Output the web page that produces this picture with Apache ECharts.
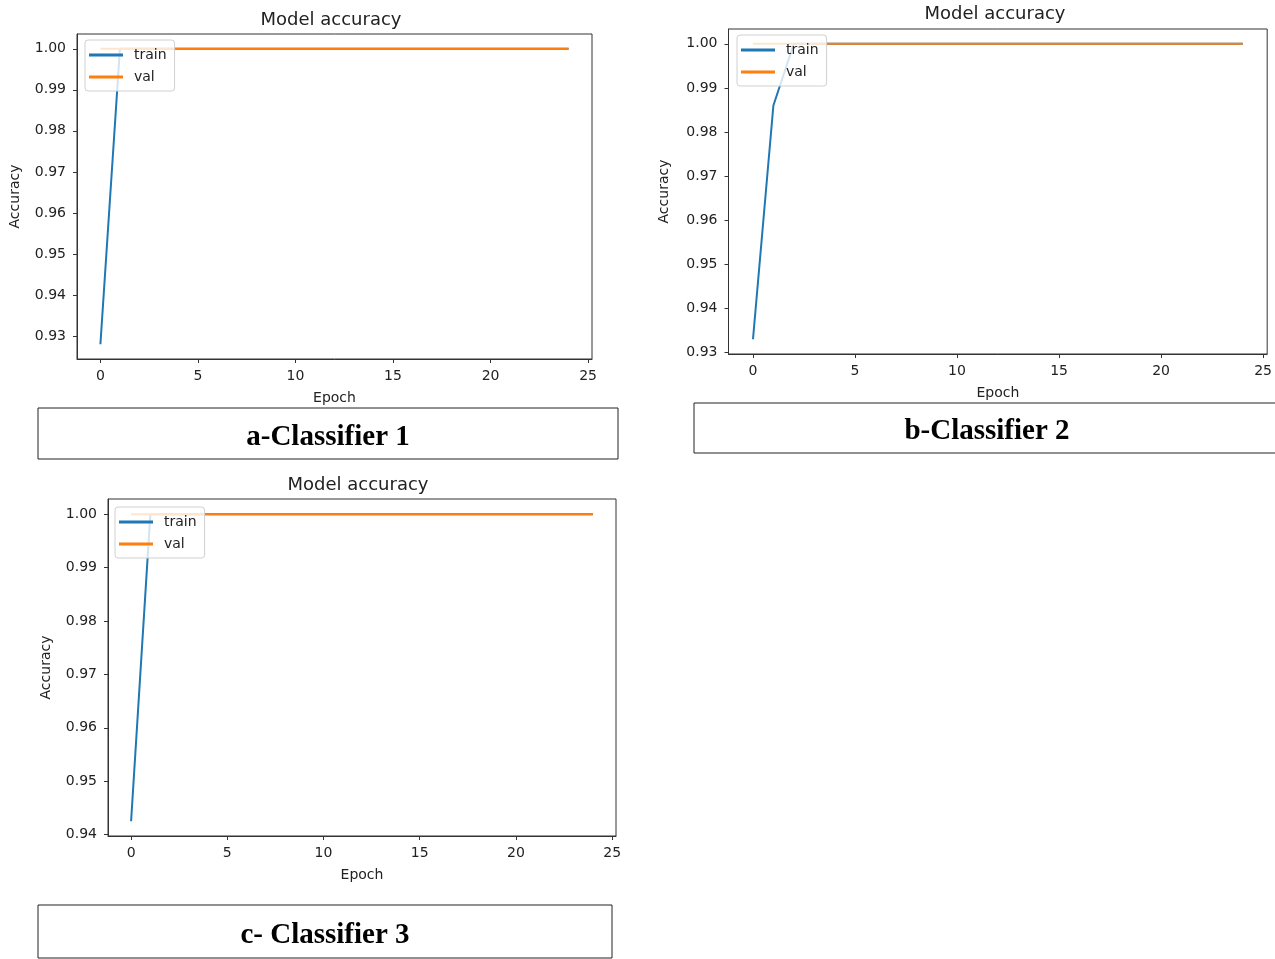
<!DOCTYPE html>
<html>
<head>
<meta charset="utf-8">
<script src="https://cdn.jsdelivr.net/npm/echarts@6/dist/echarts.min.js"></script>
<style>
html,body{margin:0;padding:0;background:#fff;}
#chart{width:1275px;height:959px;}
</style>
</head>
<body>
<div id="chart"></div>
<script>
// ---- data ----
const epochs = [0,1,2,3,4,5,6,7,8,9,10,11,12,13,14,15,16,17,18,19,20,21,22,23,24];
const trainA = [0.928,1.0,1.0,1.0,1.0,1.0,1.0,1.0,1.0,1.0,1.0,1.0,1.0,1.0,1.0,1.0,1.0,1.0,1.0,1.0,1.0,1.0,1.0,1.0,1.0];
const valA   = [1.0,1.0,1.0,1.0,1.0,1.0,1.0,1.0,1.0,1.0,1.0,1.0,1.0,1.0,1.0,1.0,1.0,1.0,1.0,1.0,1.0,1.0,1.0,1.0,1.0];
const trainB = [0.933,0.986,1.0,1.0,1.0,1.0,1.0,1.0,1.0,1.0,1.0,1.0,1.0,1.0,1.0,1.0,1.0,1.0,1.0,1.0,1.0,1.0,1.0,1.0,1.0];
const valB   = [1.0,1.0,1.0,1.0,1.0,1.0,1.0,1.0,1.0,1.0,1.0,1.0,1.0,1.0,1.0,1.0,1.0,1.0,1.0,1.0,1.0,1.0,1.0,1.0,1.0];
const trainC = [0.9425,1.0,1.0,1.0,1.0,1.0,1.0,1.0,1.0,1.0,1.0,1.0,1.0,1.0,1.0,1.0,1.0,1.0,1.0,1.0,1.0,1.0,1.0,1.0,1.0];
const valC   = [1.0,1.0,1.0,1.0,1.0,1.0,1.0,1.0,1.0,1.0,1.0,1.0,1.0,1.0,1.0,1.0,1.0,1.0,1.0,1.0,1.0,1.0,1.0,1.0,1.0];
const xTicks  = [0,5,10,15,20,25];
const yTicksA = [0.93,0.94,0.95,0.96,0.97,0.98,0.99,1.00];
const yTicksB = [0.93,0.94,0.95,0.96,0.97,0.98,0.99,1.00];
const yTicksC = [0.94,0.95,0.96,0.97,0.98,0.99,1.00];
const titleText = 'Model accuracy';
const xName = 'Epoch';
const yName = 'Accuracy';
const captions = ['a-Classifier 1','b-Classifier 2','c- Classifier 3'];
const seriesNames = ['train','val'];

// ---- layout ----
const FONT = '"DejaVu Sans", sans-serif';
const BLUE = '#1f77b4', ORANGE = '#ff7f0e';
const panels = [
  {grid:{left:77, top:34, width:515, height:325}, x:[-1.2,25.2], y:[0.9244,1.0036], yt:yTicksA, tr:trainA, va:valA,
   title:{x:331, y:10}, legend:{left:85, top:40}, yGap:55},
  {grid:{left:728.5, top:29, width:539, height:325}, x:[-1.2,25.2], y:[0.92965,1.00335], yt:yTicksB, tr:trainB, va:valB,
   title:{x:995, y:4}, legend:{left:737, top:35}, yGap:57},
  {grid:{left:108, top:499, width:508, height:337}, x:[-1.2,25.2], y:[0.93973,1.00287], yt:yTicksC, tr:trainC, va:valC,
   title:{x:358, y:475}, legend:{left:115, top:507}, yGap:55}
];
const boxes = [
  {x:38, y:408, w:580, h:51, tx:328},
  {x:694, y:403, w:590, h:50, tx:987},
  {x:38, y:905, w:574, h:53, tx:325}
];

const option = {
  animation:false,
  backgroundColor:'#fff',
  title:[], grid:[], xAxis:[], yAxis:[], legend:[], series:[], graphic:[]
};

panels.forEach((p,i)=>{
  option.title.push({
    text:titleText, left:p.title.x, top:p.title.y + 1, textAlign:'center', padding:0,
    textStyle:{fontFamily:FONT, fontSize:18, fontWeight:'normal', color:'#222'}
  });
  option.grid.push(Object.assign({show:true, borderColor:'#333', borderWidth:1, backgroundColor:'transparent', containLabel:false}, p.grid));
  option.xAxis.push({
    type:'value', gridIndex:i, min:p.x[0], max:p.x[1],
    name:xName, nameLocation:'middle', nameGap:32,
    nameTextStyle:{fontFamily:FONT, fontSize:14, color:'#222'},
    axisLine:{show:true, onZero:false, lineStyle:{color:'#333', width:1}},
    axisTick:{show:true, length:4, lineStyle:{color:'#333'}, customValues:xTicks},
    axisLabel:{fontFamily:FONT, fontSize:14, color:'#222', margin:10, customValues:xTicks},
    splitLine:{show:false}
  });
  option.yAxis.push({
    type:'value', gridIndex:i, min:p.y[0], max:p.y[1],
    name:yName, nameLocation:'middle', nameGap:p.yGap,
    nameTextStyle:{fontFamily:FONT, fontSize:14, color:'#222'},
    axisLine:{show:true, onZero:false, lineStyle:{color:'#333', width:1}},
    axisTick:{show:true, length:4, lineStyle:{color:'#333'}, customValues:p.yt},
    axisLabel:{fontFamily:FONT, fontSize:14, color:'#222', margin:11, customValues:p.yt,
               formatter:v=>Number(v).toFixed(2)},
    splitLine:{show:false}
  });
  option.legend.push({
    left:p.legend.left, top:p.legend.top, orient:'vertical',
    data:seriesNames, icon:'rect', itemWidth:34, itemHeight:3, itemGap:6,
    padding:[7,8,6,4], backgroundColor:'rgba(255,255,255,0.8)',
    borderColor:'#d0d0d0', borderWidth:1, borderRadius:3,
    textStyle:{fontFamily:FONT, fontSize:14, color:'#222', padding:[0,0,0,6], lineHeight:16}
  });
  option.series.push({
    name:seriesNames[0], type:'line', xAxisIndex:i, yAxisIndex:i, symbol:'none',
    data:epochs.map((e,k)=>[e,p.tr[k]]), lineStyle:{color:BLUE, width:2}, itemStyle:{color:BLUE}, z:2
  });
  option.series.push({
    name:seriesNames[1], type:'line', xAxisIndex:i, yAxisIndex:i, symbol:'none',
    data:epochs.map((e,k)=>[e,p.va[k]]), lineStyle:{color:ORANGE, width:2}, itemStyle:{color:ORANGE}, z:3
  });
  const b = boxes[i];
  option.graphic.push({
    type:'rect', shape:{x:b.x, y:b.y, width:b.w, height:b.h},
    style:{fill:'#fff', stroke:'#222', lineWidth:1}
  });
  option.graphic.push({
    type:'text', x:b.tx, y:b.y + b.h/2 + 4,
    style:{text:captions[i], font:'bold 29px "Liberation Serif", "Times New Roman", serif',
           fill:'#000', textAlign:'center', textVerticalAlign:'middle'}
  });
});

const chart = echarts.init(document.getElementById('chart'), null, {renderer:'canvas'});
chart.setOption(option);
</script>
</body>
</html>
